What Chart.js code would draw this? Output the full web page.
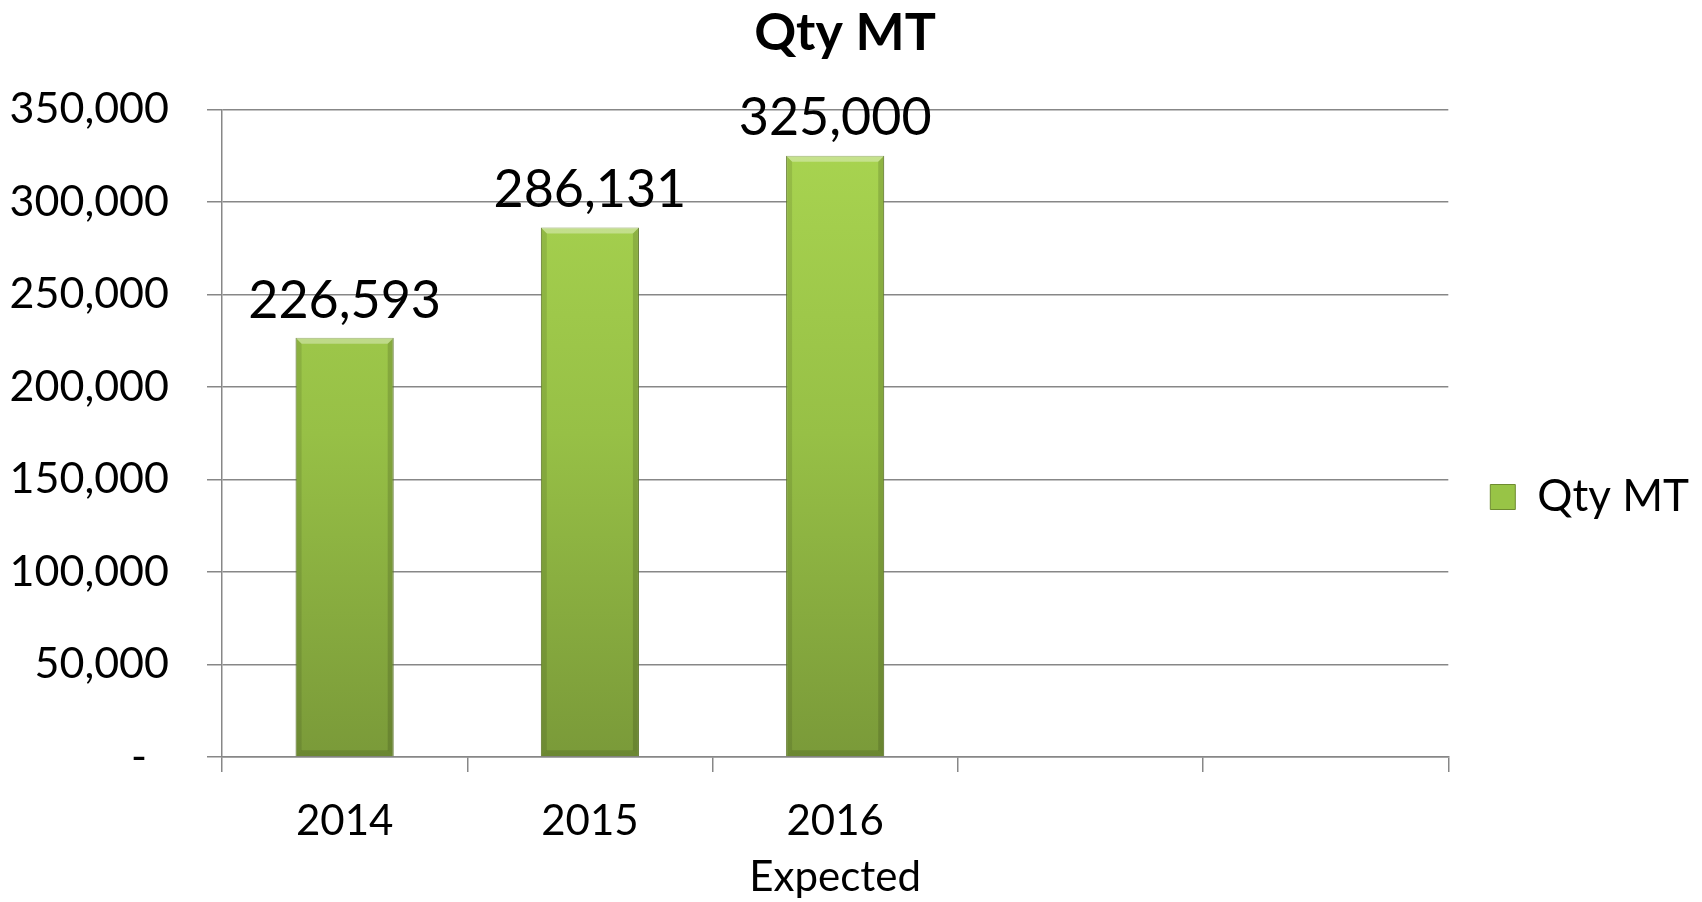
<!DOCTYPE html>
<html>
<head>
<meta charset="utf-8">
<script src="https://cdn.jsdelivr.net/npm/chart.js@4/dist/chart.umd.min.js"></script>
<style>
  html, body { margin: 0; padding: 0; background: #fff; }
  #wrap { width: 1702px; height: 902px; }
</style>
</head>
<body>
<div id="wrap"><canvas id="qtyChart" width="1702" height="902"></canvas></div>
<script>
// Dados do gráfico
const anos = [["2014"], ["2015"], ["2016", "Expected"], [""], [""]];
const qtyMT = [226593, 286131, 325000, null, null];
const ticksY = [0, 50000, 100000, 150000, 200000, 250000, 300000, 350000];

const FONTE = "Lato, 'Open Sans', sans-serif";
const COR_GRADE = '#878787';

// gradiente das barras (claro em cima, escuro embaixo)
function gradienteBarra(ctx) {
  const chart = ctx.chart;
  const area = chart.chartArea;
  if (!area) return '#98c446';
  const g = chart.ctx.createLinearGradient(0, area.top, 0, area.bottom);
  g.addColorStop(0, '#aad651');
  g.addColorStop(0.5, '#97c046');
  g.addColorStop(1, '#7a9a39');
  return g;
}

// chanfro das barras + rótulos de valor
const rotulosValor = {
  id: 'rotulosValor',
  afterDatasetsDraw(chart) {
    const ctx = chart.ctx;
    const meta = chart.getDatasetMeta(0);
    const b = 6;
    ctx.save();
    meta.data.forEach((el, i) => {
      if (qtyMT[i] == null) return;
      const l = el.x - el.width / 2, r = el.x + el.width / 2, t = el.y, bt = el.base;
      const trap = (pts, cor) => {
        ctx.beginPath();
        ctx.moveTo(pts[0][0], pts[0][1]);
        pts.slice(1).forEach(p => ctx.lineTo(p[0], p[1]));
        ctx.closePath();
        ctx.fillStyle = cor;
        ctx.fill();
      };
      trap([[l, t], [r, t], [r - b, t + b], [l + b, t + b]], 'rgba(255,255,255,0.35)');
      trap([[l, t], [l + b, t + b], [l + b, bt - b], [l, bt]], 'rgba(0,0,0,0.10)');
      trap([[r, t], [r - b, t + b], [r - b, bt - b], [r, bt]], 'rgba(0,0,0,0.14)');
      trap([[l, bt], [l + b, bt - b], [r - b, bt - b], [r, bt]], 'rgba(0,0,0,0.12)');
    });
    ctx.font = "52px " + FONTE;
    ctx.fillStyle = '#000';
    ctx.textAlign = 'center';
    ctx.textBaseline = 'bottom';
    meta.data.forEach((el, i) => {
      const v = qtyMT[i];
      if (v == null) return;
      ctx.fillText(v.toLocaleString('en-US'), el.x, el.y - 11);
    });
    ctx.restore();
  }
};

new Chart(document.getElementById('qtyChart'), {
  type: 'bar',
  data: {
    labels: anos,
    datasets: [{
      label: 'Qty MT',
      data: qtyMT,
      backgroundColor: gradienteBarra,
      borderColor: '#6e8b30',
      borderWidth: 1,
      categoryPercentage: 1,
      barPercentage: 0.4
    }]
  },
  options: {
    responsive: false,
    animation: false,
    layout: { padding: { left: -9, right: 3, top: 0, bottom: 0 } },
    scales: {
      y: {
        min: 0,
        max: 350000,
        afterBuildTicks: axis => { axis.ticks = ticksY.map(v => ({ value: v })); },
        afterFit: axis => { axis.width = 231; },
        ticks: {
          color: '#000',
          font: { family: FONTE, size: 43 },
          padding: 38,
          callback: v => v === 0 ? '-\u00a0\u00a0' : v.toLocaleString('en-US')
        },
        grid: { color: COR_GRADE, lineWidth: 1.5, tickLength: 15 },
        border: { color: COR_GRADE, width: 1.5 }
      },
      x: {
        afterFit: axis => { axis.height = 145; },
        ticks: {
          color: '#000',
          font: { family: FONTE, size: 42, lineHeight: 1.32 },
          padding: 22
        },
        grid: { drawOnChartArea: false, color: COR_GRADE, lineWidth: 1.5, tickLength: 15 },
        border: { color: COR_GRADE, width: 1.5 }
      }
    },
    plugins: {
      title: {
        display: true,
        text: 'Qty MT',
        color: '#000',
        font: { family: FONTE, size: 52, weight: 'bold' },
        padding: { top: 2, bottom: 45 }
      },
      legend: {
        position: 'right',
        title: { display: true, text: ' ', font: { size: 10 }, padding: { top: 80, bottom: 0 } },
        labels: {
          color: '#000',
          font: { family: FONTE, size: 44 },
          boxWidth: 25,
          boxHeight: 25,
          padding: 42,
          generateLabels: chart => [{
            text: 'Qty MT',
            fillStyle: '#98c446',
            strokeStyle: '#6e8b30',
            fontColor: '#000',
            lineWidth: 1,
            datasetIndex: 0
          }]
        }
      },
      tooltip: { enabled: false }
    }
  },
  plugins: [rotulosValor]
});
</script>
</body>
</html>
